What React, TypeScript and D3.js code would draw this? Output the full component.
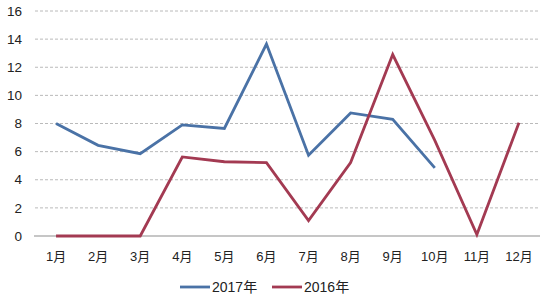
import React from "react";
import * as d3 from "d3";

const months = ["1月", "2月", "3月", "4月", "5月", "6月", "7月", "8月", "9月", "10月", "11月", "12月"];
const series2017 = [8.0, 6.45, 5.85, 7.9, 7.65, 13.65, 5.75, 8.75, 8.3, 4.85];
const series2016 = [0, 0, 0, 5.62, 5.28, 5.22, 1.1, 5.22, 12.9, 6.8, 0.1, 8.05];
const yTicks = [0, 2, 4, 6, 8, 10, 12, 14, 16];
const seriesNames = ["2017年", "2016年"];
const colors = ["#4A72A6", "#A33A52"];

export default function App() {
  const W = 550, H = 300;
  const x = d3.scaleBand<string>().domain(months).range([35, 540]);
  const y = d3.scaleLinear().domain([0, 16]).range([236, 11]);
  const cx = (m: string) => (x(m) as number) + x.bandwidth() / 2;
  const line = d3
    .line<number>()
    .x((_, i) => cx(months[i]))
    .y((d) => y(d));
  const font = "'Liberation Sans', 'Noto Sans CJK SC', sans-serif";
  const data = [series2017, series2016];
  const legendX = [180, 272];
  return (
    <svg width={W} height={H} style={{ position: "absolute", left: 0, top: 0, background: "#fff" }} fontFamily={font}>
      <rect width={W} height={H} fill="#fff" />
      {yTicks.map((t) => (
        <g key={t}>
          {t > 0 && (
            <line x1={35} x2={540} y1={y(t)} y2={y(t)} stroke="#a8a8a8" strokeWidth={0.8} strokeDasharray="3,2" />
          )}
          <text x={22} y={y(t)} dy="0.35em" textAnchor="end" fontSize={13.5} fill="#222">
            {t}
          </text>
        </g>
      ))}
      <line x1={34} x2={540} y1={y(0)} y2={y(0)} stroke="#b3b3b3" strokeWidth={1.5} />
      {months.map((m) => (
        <text key={m} x={cx(m)} y={256} dy="0.35em" textAnchor="middle" fontSize={13} fill="#222">
          {m}
        </text>
      ))}
      {data.map((s, i) => (
        <path key={i} d={line(s) || ""} fill="none" stroke={colors[i]} strokeWidth={2.8} strokeLinejoin="miter" />
      ))}
      {seriesNames.map((n, i) => (
        <g key={n}>
          <line x1={legendX[i]} x2={legendX[i] + 30} y1={287} y2={287} stroke={colors[i]} strokeWidth={2.8} />
          <text x={legendX[i] + 32} y={287} dy="0.35em" fontSize={14} fill="#222">
            {n}
          </text>
        </g>
      ))}
    </svg>
  );
}
